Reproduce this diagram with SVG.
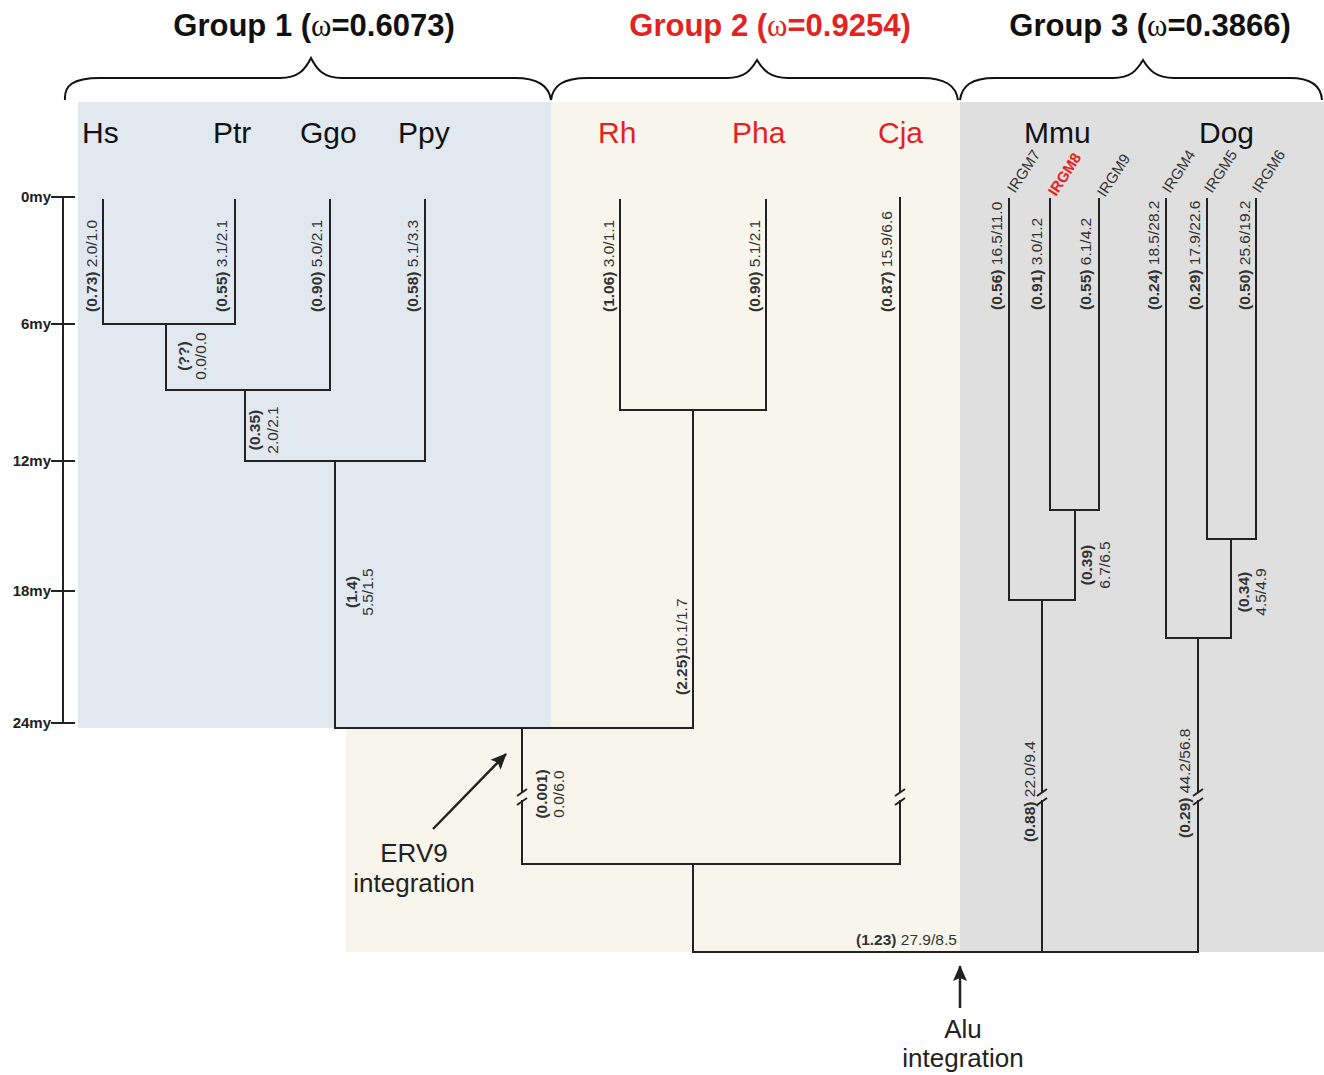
<svg xmlns="http://www.w3.org/2000/svg" width="1324" height="1075" viewBox="0 0 1324 1075">
<defs>
<style>
.br{fill:none;stroke:#222;stroke-width:2;stroke-linecap:square}
.brace{fill:none;stroke:#111;stroke-width:2}
.lab{font-family:"Liberation Sans",Arial,sans-serif;font-size:15.5px;fill:#333}
.b{font-weight:bold}
.sp{font-family:"Liberation Sans",Arial,sans-serif;font-size:30px;fill:#111}
.title{font-family:"Liberation Sans",Arial,sans-serif;font-size:31px;font-weight:bold;fill:#111;text-anchor:middle}
.om{font-family:"Liberation Serif","Times New Roman",serif;font-weight:normal}
.ax{font-family:"Liberation Sans",Arial,sans-serif;font-size:15px;font-weight:bold;fill:#222;text-anchor:end}
.irgm{font-family:"Liberation Sans",Arial,sans-serif;font-size:15px;fill:#333}
.note{font-family:"Liberation Sans",Arial,sans-serif;font-size:26px;fill:#222;text-anchor:middle}
.red{fill:#e3231f}
</style>
<marker id="ah" markerWidth="16" markerHeight="16" refX="15" refY="8" orient="auto" markerUnits="userSpaceOnUse" viewBox="0 0 16 16">
<path d="M0,1 L16,8 L0,15 L3,8 Z" fill="#222"/>
</marker>
</defs>
<rect width="1324" height="1075" fill="#ffffff"/>
<g id="backgrounds">
<polygon points="551,102 960,102 960,952 346,952 346,728 551,728" fill="#f8f6ec"/>
<rect x="78" y="102" width="473" height="626" fill="#e1e8f0"/>
<rect x="960" y="102" width="364" height="850" fill="#dfdfdf"/>
</g>
<g id="group1-title">
<text class="title" x="314" y="36">Group 1 (<tspan class="om">ω</tspan>=0.6073)</text>
<path class="brace" d="M65,100 C64,86 72,78 100,78 L280,78 C298,78 305,70 311,58 C317,70 324,78 342,78 L515,78 C538,78 549,86 551,100"/>
</g>
<g id="group2-title">
<text class="title red" x="770" y="36">Group 2 (<tspan class="om">ω</tspan>=0.9254)</text>
<path class="brace" d="M551,100 C553,86 562,78 588,78 L727,78 C745,78 751,70 757,60 C763,70 770,78 788,78 L922,78 C946,78 956,86 958,100"/>
</g>
<g id="group3-title">
<text class="title" x="1150" y="36">Group 3 (<tspan class="om">ω</tspan>=0.3866)</text>
<path class="brace" d="M960,100 C962,86 971,78 995,78 L1113,78 C1131,78 1137,70 1143,60 C1149,70 1156,78 1174,78 L1290,78 C1312,78 1321,86 1322,100"/>
</g>
<g id="axis">
<line class="br" x1="63" y1="197" x2="63" y2="723"/>
<line class="br" x1="52" y1="197" x2="74" y2="197"/>
<line class="br" x1="52" y1="324" x2="74" y2="324"/>
<line class="br" x1="52" y1="461" x2="74" y2="461"/>
<line class="br" x1="52" y1="591" x2="74" y2="591"/>
<line class="br" x1="52" y1="723" x2="74" y2="723"/>
<text class="ax" x="51" y="202">0my</text>
<text class="ax" x="51" y="329">6my</text>
<text class="ax" x="51" y="466">12my</text>
<text class="ax" x="51" y="596">18my</text>
<text class="ax" x="51" y="728">24my</text>
</g>
<g id="node-Hs"><text class="sp" x="82" y="143">Hs</text></g>
<g id="node-Ptr"><text class="sp" x="213" y="143">Ptr</text></g>
<g id="node-Ggo"><text class="sp" x="300" y="143">Ggo</text></g>
<g id="node-Ppy"><text class="sp" x="398" y="143">Ppy</text></g>
<g id="node-Rh"><text class="sp red" x="598" y="143">Rh</text></g>
<g id="node-Pha"><text class="sp red" x="732" y="143">Pha</text></g>
<g id="node-Cja"><text class="sp red" x="878" y="143">Cja</text></g>
<g id="node-Mmu"><text class="sp" x="1024" y="143">Mmu</text></g>
<g id="node-Dog"><text class="sp" x="1199" y="143">Dog</text></g>
<g id="node-IRGM7"><text class="irgm" transform="translate(1015,194) rotate(-57)">IRGM7</text></g>
<g id="node-IRGM8"><text class="irgm red b" transform="translate(1056,197) rotate(-57)">IRGM8</text></g>
<g id="node-IRGM9"><text class="irgm" transform="translate(1105,198) rotate(-57)">IRGM9</text></g>
<g id="node-IRGM4"><text class="irgm" transform="translate(1170,194) rotate(-57)">IRGM4</text></g>
<g id="node-IRGM5"><text class="irgm" transform="translate(1212,194) rotate(-57)">IRGM5</text></g>
<g id="node-IRGM6"><text class="irgm" transform="translate(1260,194) rotate(-57)">IRGM6</text></g>
<g id="connectors">
<path class="br" d="M103,200 V324 H235 V200"/>
<path class="br" d="M166,324 V390 H330 V200"/>
<path class="br" d="M245,390 V461 H425 V200"/>
<path class="br" d="M335,461 V728 H693 V410"/>
<path class="br" d="M620,200 V410 H766 V200"/>
<path class="br" d="M522,728 V792"/>
<path class="br" d="M522,801 V864 H900 V801"/>
<path class="br" d="M900,792 V198"/>
<path class="br" d="M693,864 V952 H1198 V801"/>
<path class="br" d="M1198,792 V638"/>
<path class="br" d="M1042,952 V801"/>
<path class="br" d="M1042,792 V600"/>
<path class="br" d="M1009,199 V600 H1075 V510"/>
<path class="br" d="M1050,199 V510 H1099 V199"/>
<path class="br" d="M1166,199 V638 H1231 V539"/>
<path class="br" d="M1207,199 V539 H1256 V199"/>
<g stroke="#222" stroke-width="2">
<line x1="517" y1="796" x2="527" y2="789"/><line x1="517" y1="805" x2="527" y2="798"/>
<line x1="895" y1="796" x2="905" y2="789"/><line x1="895" y1="805" x2="905" y2="798"/>
<line x1="1037" y1="796" x2="1047" y2="789"/><line x1="1037" y1="805" x2="1047" y2="798"/>
<line x1="1193" y1="796" x2="1203" y2="789"/><line x1="1193" y1="805" x2="1203" y2="798"/>
</g>
<line x1="433" y1="829" x2="506" y2="754" stroke="#222" stroke-width="2.5" marker-end="url(#ah)"/>
<line x1="960" y1="1008" x2="960" y2="966" stroke="#222" stroke-width="2.5" marker-end="url(#ah)"/>
</g>
<g id="branch-labels">
<text class="lab" transform="translate(97,312) rotate(-90)"><tspan class="b">(0.73)</tspan> 2.0/1.0</text>
<text class="lab" transform="translate(227,312) rotate(-90)"><tspan class="b">(0.55)</tspan> 3.1/2.1</text>
<text class="lab" transform="translate(322,312) rotate(-90)"><tspan class="b">(0.90)</tspan> 5.0/2.1</text>
<text class="lab" transform="translate(418,312) rotate(-90)"><tspan class="b">(0.58)</tspan> 5.1/3.3</text>
<text class="lab" transform="translate(614,312) rotate(-90)"><tspan class="b">(1.06)</tspan> 3.0/1.1</text>
<text class="lab" transform="translate(760,312) rotate(-90)"><tspan class="b">(0.90)</tspan> 5.1/2.1</text>
<text class="lab" transform="translate(892,312) rotate(-90)"><tspan class="b">(0.87)</tspan> 15.9/6.6</text>
<text class="lab" transform="translate(1002,310) rotate(-90)"><tspan class="b">(0.56)</tspan> 16.5/11.0</text>
<text class="lab" transform="translate(1042,310) rotate(-90)"><tspan class="b">(0.91)</tspan> 3.0/1.2</text>
<text class="lab" transform="translate(1091,310) rotate(-90)"><tspan class="b">(0.55)</tspan> 6.1/4.2</text>
<text class="lab" transform="translate(1159,310) rotate(-90)"><tspan class="b">(0.24)</tspan> 18.5/28.2</text>
<text class="lab" transform="translate(1200,310) rotate(-90)"><tspan class="b">(0.29)</tspan> 17.9/22.6</text>
<text class="lab" transform="translate(1250,310) rotate(-90)"><tspan class="b">(0.50)</tspan> 25.6/19.2</text>
<text class="lab b" text-anchor="middle" transform="translate(189,356) rotate(-90)">(??)</text>
<text class="lab" text-anchor="middle" transform="translate(206,356) rotate(-90)">0.0/0.0</text>
<text class="lab b" text-anchor="middle" transform="translate(260,430) rotate(-90)">(0.35)</text>
<text class="lab" text-anchor="middle" transform="translate(278,430) rotate(-90)">2.0/2.1</text>
<text class="lab b" text-anchor="middle" transform="translate(357,592) rotate(-90)">(1.4)</text>
<text class="lab" text-anchor="middle" transform="translate(373,592) rotate(-90)">5.5/1.5</text>
<text class="lab" transform="translate(687,695) rotate(-90)"><tspan class="b">(2.25)</tspan>10.1/1.7</text>
<text class="lab b" text-anchor="middle" transform="translate(547,794) rotate(-90)">(0.001)</text>
<text class="lab" text-anchor="middle" transform="translate(564,794) rotate(-90)">0.0/6.0</text>
<text class="lab b" text-anchor="middle" transform="translate(1092,565) rotate(-90)">(0.39)</text>
<text class="lab" text-anchor="middle" transform="translate(1110,565) rotate(-90)">6.7/6.5</text>
<text class="lab b" text-anchor="middle" transform="translate(1249,592) rotate(-90)">(0.34)</text>
<text class="lab" text-anchor="middle" transform="translate(1266,592) rotate(-90)">4.5/4.9</text>
<text class="lab" transform="translate(1035,842) rotate(-90)"><tspan class="b">(0.88)</tspan> 22.0/9.4</text>
<text class="lab" transform="translate(1190,838) rotate(-90)"><tspan class="b">(0.29)</tspan> 44.2/56.8</text>
<text class="lab" x="856" y="945"><tspan class="b">(1.23)</tspan> 27.9/8.5</text>
</g>
<g id="erv9-label">
<text class="note" x="414" y="862">ERV9</text>
<text class="note" x="414" y="892">integration</text>
</g>
<g id="alu-label">
<text class="note" x="963" y="1038">Alu</text>
<text class="note" x="963" y="1067">integration</text>
</g>
</svg>
